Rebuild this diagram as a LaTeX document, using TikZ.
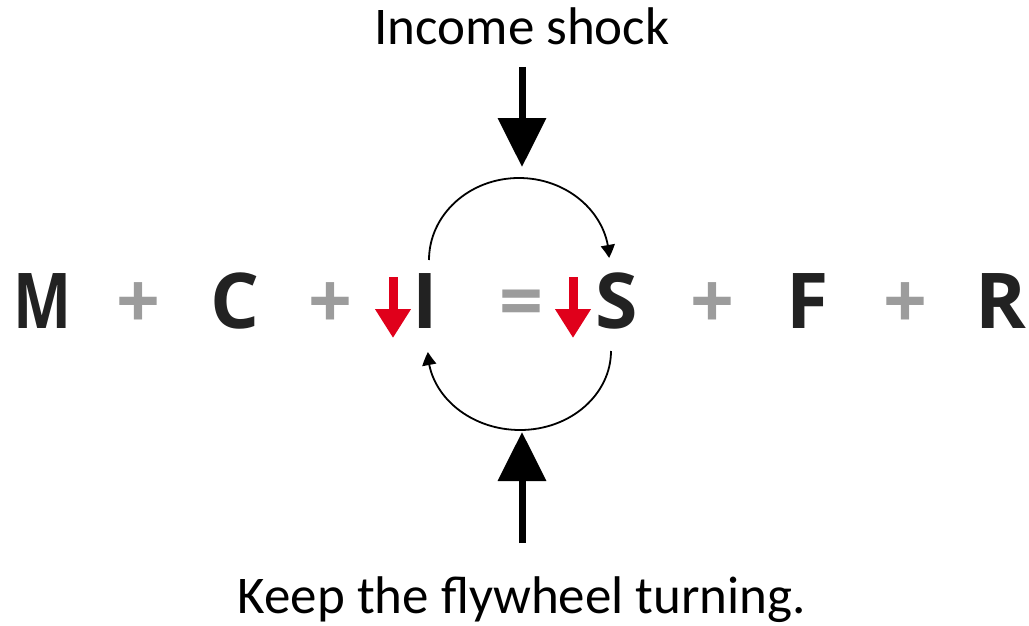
\documentclass[tikz,border=0pt]{standalone}
\usepackage{graphicx}
\usepackage{fontspec}
\setmainfont{Open Sans}
\newfontfamily\labelfont{Carlito}
\usetikzlibrary{arrows.meta,bending}
\definecolor{lettercol}{HTML}{222222}
\definecolor{opcol}{HTML}{9C9C9C}
\definecolor{downred}{HTML}{E0001B}
\tikzset{
  letter/.style={anchor=base,inner sep=0pt,text=lettercol,font=\fontsize{77}{77}\selectfont\bfseries},
  oper/.style={anchor=base,inner sep=0pt,text=opcol,font=\fontsize{77}{77}\selectfont\bfseries},
  caption/.style={anchor=base,inner sep=0pt,text=black,font=\labelfont\fontsize{53}{53}\selectfont},
  bigarrow/.style={line width=7pt,-{Triangle[length=49pt,width=47pt]}},
  redarrow/.style={draw=downred,line width=9pt,-{Triangle[length=29pt,width=34pt]}},
  looparrow/.style={line width=1.8pt,-{Triangle[length=13pt,width=14pt,bend]}}
}
\begin{document}
\begin{tikzpicture}[x=1pt,y=-1pt]
\useasboundingbox (0,0) rectangle (1029,626);
% equation
\node[letter] (M) at (43,328) {\scalebox{0.8}[1]{M}};
\node[oper] (p1) at (138,328) {+};
\node[letter] (C) at (235,328) {C};
\node[oper] (p2) at (330,328) {+};
\node[letter] (I) at (425,328) {I};
\node[oper] (eq) at (521,328) {=};
\node[letter] (S) at (617,328) {S};
\node[oper] (p3) at (712,328) {+};
\node[letter] (F) at (808,328) {F};
\node[oper] (p4) at (905,328) {+};
\node[letter] (R) at (1001,328) {R};
% red down arrows
\coordinate (ri1) at (393,277);
\coordinate (ri2) at (393,338);
\coordinate (rs1) at (573,277);
\coordinate (rs2) at (573,338);
\draw[redarrow] (ri1) -- (ri2);
\draw[redarrow] (rs1) -- (rs2);
% captions
\node[caption] (shock) at (522,45) {Income shock};
\node[caption] (keep) at (522,613) {Keep the flywheel turning.};
% big arrows
\coordinate (topA) at (522,67);
\coordinate (topB) at (522,167);
\coordinate (botA) at (522,543);
\coordinate (botB) at (522,432);
\draw[bigarrow] (topA) -- (topB);
\draw[bigarrow] (botA) -- (botB);
% loop arcs
\coordinate (u1) at (429,260);
\coordinate (ut) at (519,178);
\coordinate (u2) at (609,258);
\draw[looparrow] (u1) .. controls (429,215) and (469,178) .. (ut)
  .. controls (569,178) and (609,215) .. (u2);
\coordinate (l1) at (611,351);
\coordinate (lb) at (520,430);
\coordinate (l2) at (428,352);
\draw[looparrow] (l1) .. controls (611,394) and (571,430) .. (lb)
  .. controls (469,430) and (428,394) .. (l2);
\end{tikzpicture}
\end{document}
